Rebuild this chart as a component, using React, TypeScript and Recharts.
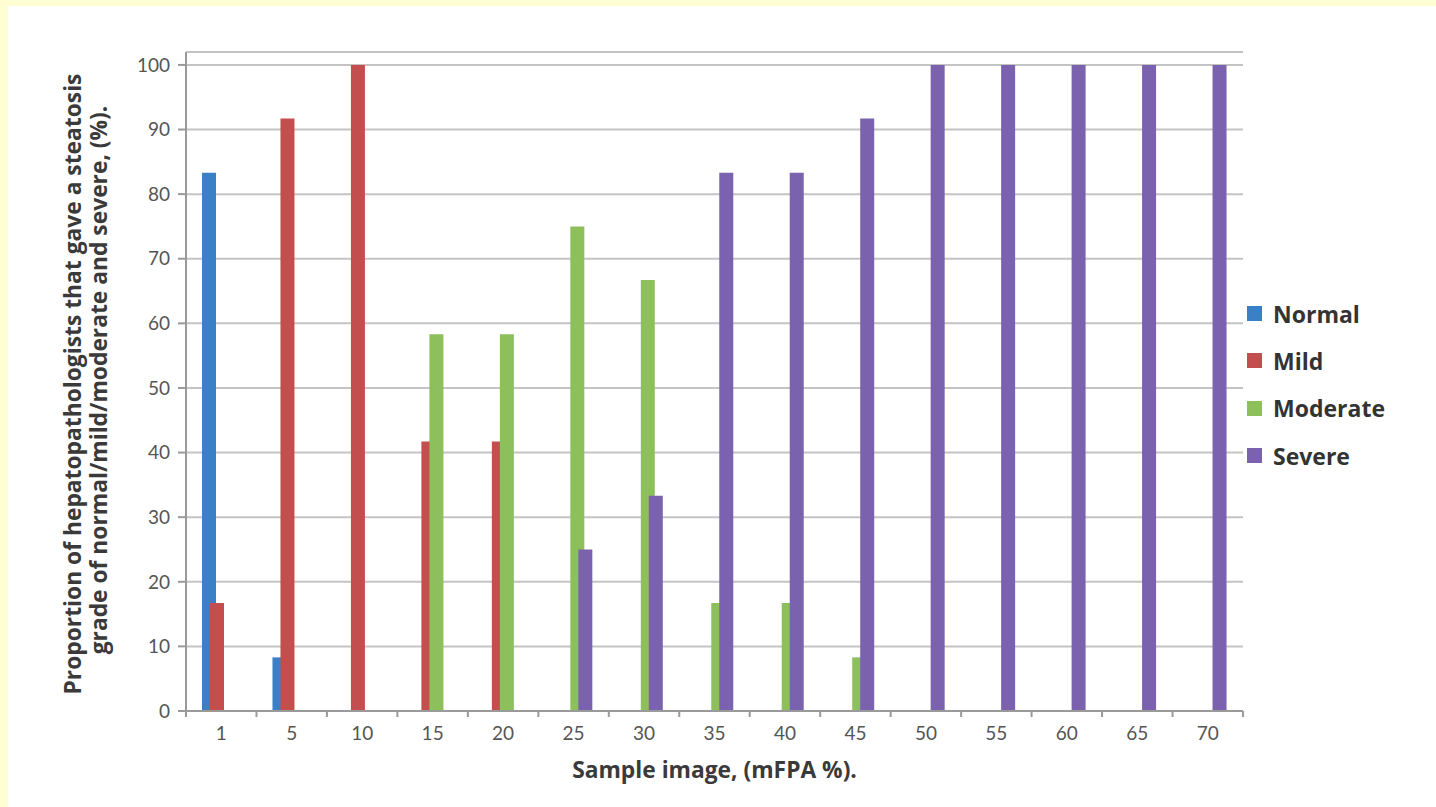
import React from 'react';
import { BarChart, Bar, XAxis, YAxis, CartesianGrid, Legend } from 'recharts';

const categories = ['1', '5', '10', '15', '20', '25', '30', '35', '40', '45', '50', '55', '60', '65', '70'];
const normal = [83.3, 8.3, 0, 0, 0, 0, 0, 0, 0, 0, 0, 0, 0, 0, 0];
const mild = [16.7, 91.7, 100, 41.7, 41.7, 0, 0, 0, 0, 0, 0, 0, 0, 0, 0];
const moderate = [0, 0, 0, 58.3, 58.3, 75, 66.7, 16.7, 16.7, 8.3, 0, 0, 0, 0, 0];
const severe = [0, 0, 0, 0, 0, 25, 33.3, 83.3, 83.3, 91.7, 100, 100, 100, 100, 100];
const yTicks = [0, 10, 20, 30, 40, 50, 60, 70, 80, 90, 100];
const seriesKeys = ['normal', 'mild', 'moderate', 'severe'];
const seriesNames = ['Normal', 'Mild', 'Moderate', 'Severe'];
const seriesColors = ['#3b7fc6', '#c44e4e', '#8dbf5b', '#7b62ae'];
const xTitle = 'Sample image, (mFPA %).';
const yTitle1 = 'Proportion of hepatopathologists  that gave a steatosis';
const yTitle2 = 'grade of normal/mild/moderate and severe, (%).';

const data = categories.map((c, i) => ({
  cat: c,
  normal: normal[i],
  mild: mild[i],
  moderate: moderate[i],
  severe: severe[i],
}));

const W = 1436;
const H = 807;
const LEFT = 186;
const RIGHT = 193;
const TOP = 52;
const XH = 96;
const FONT = 'Lato, "Open Sans", sans-serif';
const BFONT = '"Open Sans", Lato, sans-serif';
const plotW = W - LEFT - RIGHT;
const halfBand = plotW / categories.length / 2;

const XTick = (props: any) => {
  const { x, y, payload, index } = props;
  return (
    <g>
      <line x1={x - halfBand} x2={x - halfBand} y1={y} y2={y + 6} stroke="#9a9a9a" strokeWidth={2} />
      {index === categories.length - 1 && (
        <line x1={x + halfBand} x2={x + halfBand} y1={y} y2={y + 6} stroke="#9a9a9a" strokeWidth={2} />
      )}
      <text x={x} y={y + 29} textAnchor="middle" fill="#555" fontSize={19} fontFamily={FONT}>
        {payload.value}
      </text>
    </g>
  );
};

const XLabel = (props: any) => {
  const vb = props.viewBox || { x: LEFT, y: H - XH, width: plotW, height: XH };
  return (
    <text
      x={vb.x + vb.width / 2}
      y={vb.y + 67}
      textAnchor="middle"
      fill="#3a3a3a"
      fontSize={22.8}
      fontWeight="bold"
      fontFamily={BFONT}
    >
      {xTitle}
    </text>
  );
};

const YLabel = () => {
  return (
    <g>
      <text
        transform={`translate(81, 384) rotate(-90)`}
        textAnchor="middle"
        fill="#3a3a3a"
        fontSize={22.8}
        fontWeight="bold"
        fontFamily={BFONT}
      >
        {yTitle1}
      </text>
      <text
        transform={`translate(107, 380) rotate(-90)`}
        textAnchor="middle"
        fill="#3a3a3a"
        fontSize={22.8}
        fontWeight="bold"
        fontFamily={BFONT}
      >
        {yTitle2}
      </text>
    </g>
  );
};

const LegendContent = () => (
  <div style={{ fontFamily: BFONT }}>
    {seriesNames.map((n, i) => (
      <div key={n} style={{ height: 47.3, display: 'flex', alignItems: 'center' }}>
        <div style={{ width: 15, height: 15, background: seriesColors[i], marginRight: 11 }} />
        <span style={{ fontSize: 23, fontWeight: 'bold', color: '#333' }}>{n}</span>
      </div>
    ))}
  </div>
);

export default function App() {
  return (
    <div style={{ position: 'fixed', left: 0, top: 0, width: W, height: H, background: '#fffed2', overflow: 'hidden' }}>
      <div style={{ position: 'absolute', left: 8, top: 6, right: 0, bottom: 0, background: '#ffffff' }} />
      <div style={{ position: 'absolute', left: 0, top: 0 }}>
        <BarChart
          width={W}
          height={H}
          data={data}
          margin={{ top: TOP, right: RIGHT, left: 0, bottom: 0 }}
          barSize={14}
          barGap={-6}
        >
          <CartesianGrid vertical={false} stroke="#c4c4c4" strokeWidth={2} />
          <XAxis
            dataKey="cat"
            height={XH}
            tickLine={false}
            tickSize={0}
            tickMargin={0}
            interval={0}
            axisLine={{ stroke: '#9a9a9a', strokeWidth: 2 }}
            tick={<XTick />}
            label={<XLabel />}
          />
          <YAxis
            width={LEFT}
            domain={[0, 102]}
            ticks={yTicks}
            interval={0}
            tickSize={8}
            tickMargin={8}
            tickLine={{ stroke: '#9a9a9a', strokeWidth: 2 }}
            axisLine={{ stroke: '#9a9a9a', strokeWidth: 2 }}
            tick={{ fill: '#555', fontSize: 19, fontFamily: FONT }}
            label={<YLabel />}
          />
          <Legend
            layout="horizontal"
            verticalAlign="middle"
            content={<LegendContent />}
            wrapperStyle={{ position: 'absolute', left: 1247, top: 290, width: 185, height: 190 }}
          />
          {seriesKeys.map((k, i) => (
            <Bar key={k} dataKey={k} name={seriesNames[i]} fill={seriesColors[i]} isAnimationActive={false} />
          ))}
        </BarChart>
      </div>
    </div>
  );
}
